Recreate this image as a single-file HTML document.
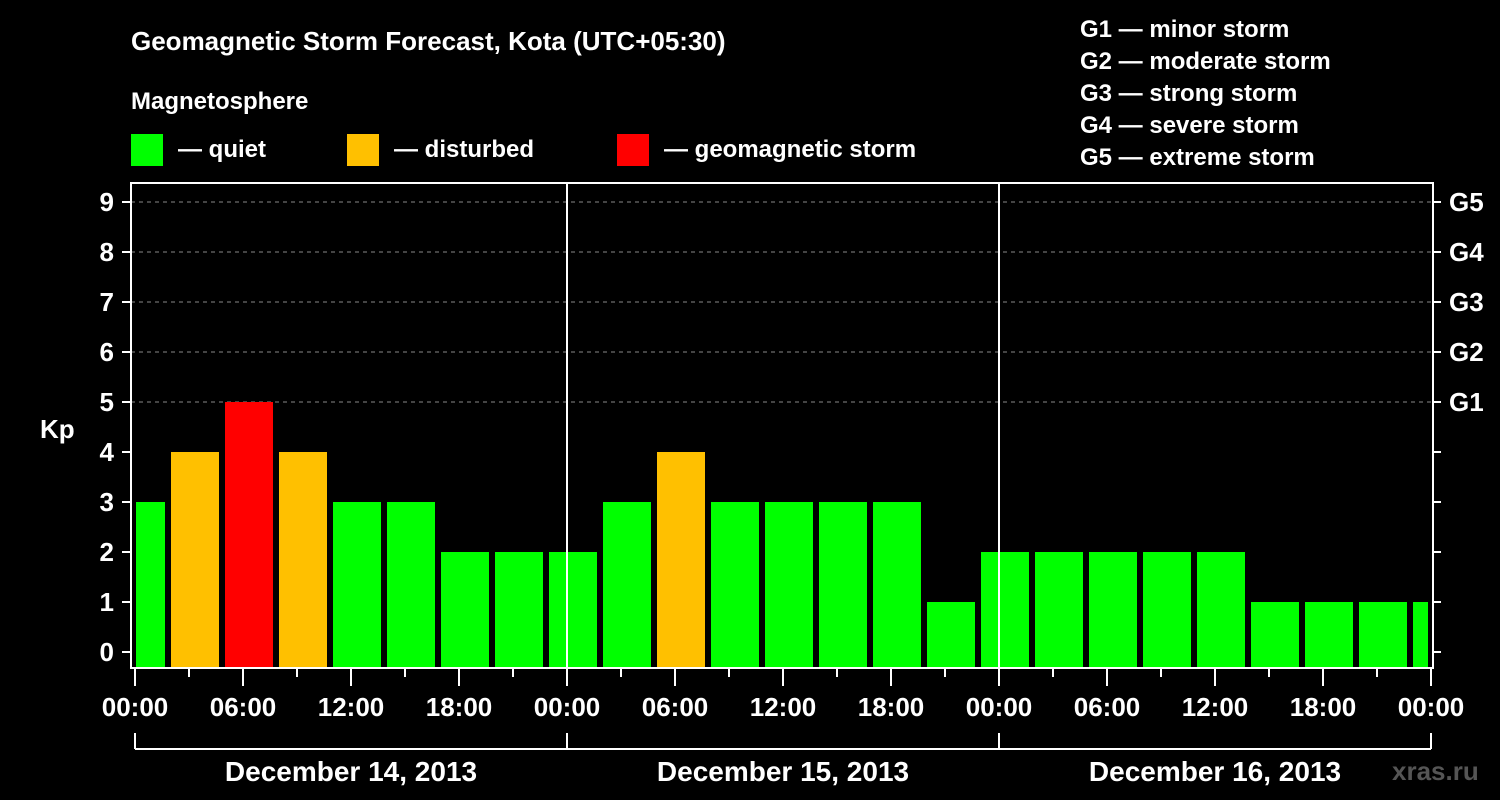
<!DOCTYPE html>
<html><head><meta charset="utf-8"><style>
html,body{margin:0;padding:0;background:#000;}
svg{display:block;font-family:"Liberation Sans",Arial,sans-serif;font-weight:bold;}
</style></head><body>
<svg id="chart" width="1500" height="800" viewBox="0 0 1500 800">
<rect x="0" y="0" width="1500" height="800" fill="#000"/>
<text x="131" y="50" fill="#fff" font-size="26">Geomagnetic Storm Forecast, Kota (UTC+05:30)</text>
<text x="131" y="109" fill="#fff" font-size="24">Magnetosphere</text>
<g><rect x="131" y="134" width="32" height="32" fill="#00ff00"/><text x="178" y="157" fill="#fff" font-size="24">— quiet</text></g>
<g><rect x="347" y="134" width="32" height="32" fill="#ffc000"/><text x="394" y="157" fill="#fff" font-size="24">— disturbed</text></g>
<g><rect x="617" y="134" width="32" height="32" fill="#ff0000"/><text x="664" y="157" fill="#fff" font-size="24">— geomagnetic storm</text></g>
<g fill="#fff" font-size="24">
<text x="1080" y="37">G1 — minor storm</text>
<text x="1080" y="69">G2 — moderate storm</text>
<text x="1080" y="101">G3 — strong storm</text>
<text x="1080" y="133">G4 — severe storm</text>
<text x="1080" y="165">G5 — extreme storm</text>
</g>
<text x="40" y="438" fill="#fff" font-size="26">Kp</text>
<text x="1392" y="780" fill="#555" font-size="26">xras.ru</text>
<defs><clipPath id="plotclip"><rect x="136" y="183" width="1292" height="485"/></clipPath></defs>
<g id="grid"></g>
<g id="bars" clip-path="url(#plotclip)"></g>
<g id="axes"></g>
</svg>
<script>
const kpValues=[3,4,5,4,3,3,2,2,2,3,4,3,3,3,3,1,2,2,2,2,2,1,1,1,1];
const yTicks=[0,1,2,3,4,5,6,7,8,9];
const gLabels=["G1","G2","G3","G4","G5"];
const timeLabels=["00:00","06:00","12:00","18:00"];
const dayLabels=["December 14, 2013","December 15, 2013","December 16, 2013"];
const NS="http://www.w3.org/2000/svg";
const L=131,R=1433,T=183,B=668,x0=135,dayW=432;
const y=v=>652-v*50;
const xh=h=>x0+h*18; // hours since start
function mk(tag,attrs,parent){const e=document.createElementNS(NS,tag);for(const k in attrs)e.setAttribute(k,attrs[k]);parent.appendChild(e);return e;}
const grid=document.getElementById('grid'),bars=document.getElementById('bars'),axes=document.getElementById('axes');
function color(v){return v>=5?"#ff0000":(v>=4?"#ffc000":"#00ff00");}
kpValues.forEach((v,i)=>{
 const r=mk('rect',{x:xh(i*3-1),y:y(v),width:48,height:B-y(v),fill:color(v)},bars);
 
 
});
yTicks.forEach(v=>{
 if(v>=5){const g=mk('line',{x1:L,x2:R,y1:y(v),y2:y(v),stroke:"#888","stroke-dasharray":"4 4","stroke-width":1},grid);
 
 }
 mk('line',{x1:122,x2:L,y1:y(v),y2:y(v),stroke:"#fff","stroke-width":2},axes);
 mk('line',{x1:R,x2:1441,y1:y(v),y2:y(v),stroke:"#fff","stroke-width":2},axes);
 const t=mk('text',{x:114,y:y(v)+9,fill:"#fff","font-size":26,"text-anchor":"end"},axes);t.textContent=v;
 
 
});
gLabels.forEach((g,i)=>{const t=mk('text',{x:1449,y:y(i+5)+9,fill:"#fff","font-size":26},axes);t.textContent=g;
 
 });
mk('rect',{x:L,y:T,width:R-L,height:B-T,fill:"none",stroke:"#fff","stroke-width":2},axes);
for(let d=1;d<3;d++)mk('line',{x1:x0+d*dayW,x2:x0+d*dayW,y1:T,y2:B,stroke:"#fff","stroke-width":2},axes);
for(let h=0;h<=72;h+=3){const major=h%6===0;mk('line',{x1:xh(h),x2:xh(h),y1:B,y2:major?686:677,stroke:"#fff","stroke-width":2},axes);}
for(let h=0;h<=72;h+=6){const t=mk('text',{x:xh(h),y:716,fill:"#fff","font-size":26,"text-anchor":"middle"},axes);t.textContent=timeLabels[(h/6)%4];
 
 }
mk('line',{x1:x0,x2:x0+3*dayW,y1:749,y2:749,stroke:"#fff","stroke-width":2},axes);
for(let d=0;d<=3;d++)mk('line',{x1:x0+d*dayW,x2:x0+d*dayW,y1:733,y2:749,stroke:"#fff","stroke-width":2},axes);
dayLabels.forEach((s,d)=>{const t=mk('text',{x:x0+d*dayW+dayW/2,y:781,fill:"#fff","font-size":28,"text-anchor":"middle"},axes);t.textContent=s;
 
 });
</script>
</body></html>
